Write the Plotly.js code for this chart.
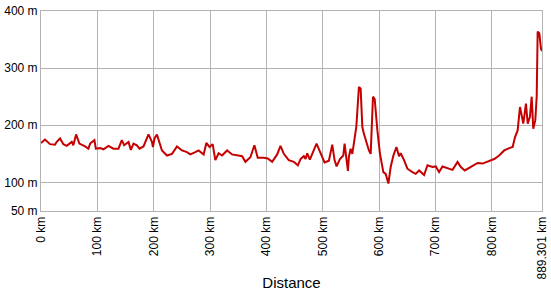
<!DOCTYPE html>
<html>
<head>
<meta charset="utf-8">
<script src="https://cdn.plot.ly/plotly-3.0.1.min.js"></script>
<style>html,body{margin:0;padding:0;background:#fff;}#chart{width:551px;height:291px;}</style>
</head>
<body>
<div id="chart"></div>
<script>
const distanceKm = [0,7.1,16.0,24.9,27.9,33.8,39.7,45.7,54.6,57.4,62.3,68.1,78.3,84.1,87.2,94.8,97.3,104.9,110.8,119.7,128.6,137.5,143.5,147.6,155.3,159.5,164.2,170.2,174.8,181.9,190.8,196.9,198.7,201.5,205.8,214.7,223.6,232.5,241.4,250.3,259.1,265.0,273.9,279.8,288.7,293.5,299.3,304.7,309.5,315.3,321.4,330.3,339.2,350.9,357.0,362.8,371.7,378.8,384.7,395.4,402.5,410.3,419.2,425.1,431.0,439.8,448.7,455.9,460.7,466.5,469.6,472.6,477.2,489.1,496.2,503.3,511.0,517.0,521.1,524.7,530.6,536.6,538.9,542.5,544.8,546.6,549.6,552.6,555.5,559.7,564.3,567.4,570.4,573.2,582.1,585.2,589.3,592.3,597.1,601.7,607.7,611.8,616.6,620.7,625.5,630.9,635.5,638.5,644.4,650.4,659.3,665.2,671.1,680.0,686.0,694.9,700.8,706.6,712.7,721.6,730.5,739.4,745.2,752.3,763.0,774.9,783.8,792.7,804.5,813.3,822.2,831.1,837.2,841.3,846.1,850.2,853.2,856.1,860.8,863.9,867.9,871.0,873.8,877.4,879.9,881.6,884.5,887.5,889.301];
const elevationM = [169,175,167,166,171,177,167,164,171,165,184,168,163,159,168,174,159,160,158,164,159,159,174,165,171,157,168,165,159,163,184,171,162,177,184,156,147,150,163,156,153,149,153,156,149,169,162,167,139,151,147,156,149,147,146,136,144,165,143,143,142,136,149,164,150,139,136,130,141,146,141,151,140,168,153,135,138,166,139,128,141,147,168,139,120,145,159,150,168,197,267,264,197,185,156,150,250,246,191,150,118,115,98,127,147,162,146,151,139,124,118,115,121,113,130,127,128,118,128,125,122,136,127,121,127,134,133,137,141,147,156,160,162,179,191,232,215,203,238,203,215,250,194,209,250,364,361,334,330];
const xTickVals = [0,100,200,300,400,500,600,700,800,889.301];
const xTickText = ['0 km','100 km','200 km','300 km','400 km','500 km','600 km','700 km','800 km','889.301 km'];
const yTickVals = [50,100,200,300,400];
const yTickText = ['50 m','100 m','200 m','300 m','400 m'];

const trace = {
  x: distanceKm, y: elevationM, type: 'scatter', mode: 'lines',
  line: {color: '#c40000', width: 2}, hoverinfo: 'skip'
};
const layout = {
  width: 551, height: 291,
  margin: {l: 41, r: 9, t: 11, b: 80},
  paper_bgcolor: '#fff', plot_bgcolor: '#fff',
  showlegend: false,
  font: {family: 'Liberation Sans, Arial, sans-serif', size: 12, color: '#000'},
  xaxis: {
    range: [0, 889.301], tickmode: 'array', tickvals: xTickVals, ticktext: xTickText,
    tickangle: -90, showgrid: true, gridcolor: '#b3b3b3', gridwidth: 1,
    showline: true, linecolor: '#b3b3b3', linewidth: 1, mirror: true,
    zeroline: false, ticks: '', ticklen: 0,
    tickfont: {size: 12, color: '#000'},
    title: {text: 'Distance', font: {size: 15, color: '#000'}, standoff: 4}
  },
  yaxis: {
    range: [50, 400], tickmode: 'array', tickvals: yTickVals, ticktext: yTickText,
    showgrid: true, gridcolor: '#b3b3b3', gridwidth: 1,
    showline: true, linecolor: '#b3b3b3', linewidth: 1, mirror: true,
    zeroline: false, ticks: '', tickfont: {size: 12, color: '#000'}
  }
};
Plotly.newPlot('chart', [trace], layout, {staticPlot: true, displayModeBar: false});
</script>
</body>
</html>
